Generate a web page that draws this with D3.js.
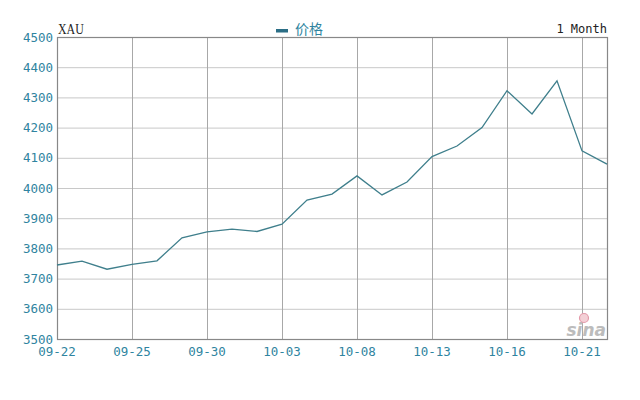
<!DOCTYPE html>
<html><head><meta charset="utf-8">
<script src="https://cdn.jsdelivr.net/npm/d3@7"></script>
<style>body{margin:0;background:#fff}</style>
</head><body>
<svg id="c" width="640" height="400"></svg>
<script>
const dates = ["09-22","09-23","09-24","09-25","09-26","09-29","09-30","10-01","10-02","10-03","10-06","10-07","10-08","10-09","10-10","10-13","10-14","10-15","10-16","10-17","10-20","10-21","10-22"];
const prices = [3745,3758,3731,3747,3759,3835,3855,3864,3856,3880,3960,3980,4040,3977,4020,4104,4139,4200,4322,4245,4355,4123,4079];
const xTickLabels = ["09-22","09-25","09-30","10-03","10-08","10-13","10-16","10-21"];
const yTicks = [3500,3600,3700,3800,3900,4000,4100,4200,4300,4400,4500];

const svg = d3.select("#c");
const L = 57, R = 607, T = 37, B = 339;
const x = d3.scalePoint().domain(dates).range([L, R]);
const y = d3.scaleLinear().domain([3500, 4500]).range([B, T]);
const mono = "'DejaVu Sans Mono', monospace";
const teal = "#2f84a0";

// horizontal grid
svg.append("g").selectAll("line").data(yTicks.slice(1, -1)).join("line")
  .attr("x1", L).attr("x2", R)
  .attr("y1", d => y(d) + 0.5).attr("y2", d => y(d) + 0.5)
  .attr("stroke", "#c8c8c8").attr("stroke-width", 1);
// vertical grid
svg.append("g").selectAll("line").data(xTickLabels.slice(1)).join("line")
  .attr("x1", d => Math.round(x(d)) + 0.5).attr("x2", d => Math.round(x(d)) + 0.5)
  .attr("y1", T).attr("y2", B)
  .attr("stroke", "#a8a8a8").attr("stroke-width", 1);
// frame
svg.append("rect").attr("x", L + 0.5).attr("y", T + 0.5).attr("width", R - L).attr("height", B - T)
  .attr("fill", "none").attr("stroke", "#888").attr("stroke-width", 1.2);

// y labels
svg.append("g").selectAll("text").data(yTicks).join("text")
  .attr("x", 53).attr("y", d => y(d) + 4.5).attr("text-anchor", "end")
  .attr("font-family", mono).attr("font-size", 12.5).attr("fill", teal)
  .text(d => d);
// x labels
svg.append("g").selectAll("text").data(xTickLabels).join("text")
  .attr("x", d => x(d)).attr("y", 356).attr("text-anchor", "middle")
  .attr("font-family", mono).attr("font-size", 12.5).attr("fill", teal)
  .text(d => d);

// watermark
svg.append("text").attr("x", 606).attr("y", 336).attr("text-anchor", "end")
  .attr("font-family", "'DejaVu Sans', sans-serif").attr("font-style", "italic").attr("font-weight", "bold")
  .attr("font-size", 17).attr("fill", "#bcbcbc").text("sina");
svg.append("circle").attr("cx", 584).attr("cy", 318).attr("r", 4.5).attr("fill", "#f3d0d6").attr("stroke", "#e39aaa").attr("stroke-width", 1.2);

// line
svg.append("path").datum(prices)
  .attr("d", d3.line().x((d, i) => x(dates[i])).y(d => y(d)))
  .attr("fill", "none").attr("stroke", "#3f7f8c").attr("stroke-width", 1.3);

// titles
svg.append("text").attr("x", 58).attr("y", 34).attr("font-family", "'Liberation Serif', serif")
  .attr("font-size", 14).attr("fill", "#222").attr("transform", "translate(58,0) scale(0.85,1) translate(-58,0)").text("XAU");
svg.append("text").attr("x", 607).attr("y", 33).attr("text-anchor", "end").attr("font-family", mono)
  .attr("font-size", 12).attr("fill", "#222").text("1 Month");
svg.append("rect").attr("x", 276).attr("y", 29).attr("width", 12).attr("height", 3.5).attr("fill", "#2b6e86");
svg.append("text").attr("x", 295).attr("y", 34).attr("font-family", "'Noto Sans CJK SC', sans-serif")
  .attr("font-size", 14).attr("fill", teal).text("价格");
</script>
</body></html>
